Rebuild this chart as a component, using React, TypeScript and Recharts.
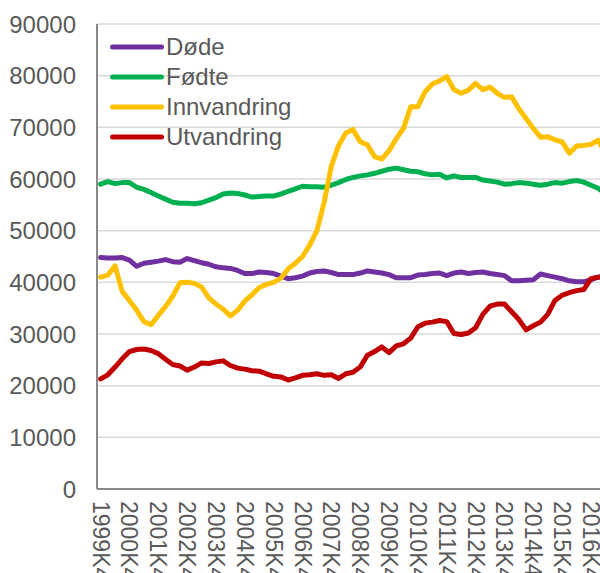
import React from 'react';
import { LineChart, Line, XAxis, YAxis, CartesianGrid, Legend } from 'recharts';

const quarters = [
  '1999K4',
  '2000K1', '2000K2', '2000K3', '2000K4',
  '2001K1', '2001K2', '2001K3', '2001K4',
  '2002K1', '2002K2', '2002K3', '2002K4',
  '2003K1', '2003K2', '2003K3', '2003K4',
  '2004K1', '2004K2', '2004K3', '2004K4',
  '2005K1', '2005K2', '2005K3', '2005K4',
  '2006K1', '2006K2', '2006K3', '2006K4',
  '2007K1', '2007K2', '2007K3', '2007K4',
  '2008K1', '2008K2', '2008K3', '2008K4',
  '2009K1', '2009K2', '2009K3', '2009K4',
  '2010K1', '2010K2', '2010K3', '2010K4',
  '2011K1', '2011K2', '2011K3', '2011K4',
  '2012K1', '2012K2', '2012K3', '2012K4',
  '2013K1', '2013K2', '2013K3', '2013K4',
  '2014K1', '2014K2', '2014K3', '2014k4',
  '2015K1', '2015K2', '2015K3', '2015K4',
  '2016K1', '2016K2', '2016K3', '2016K4',
  '2017K1', '2017K2',
];

const dode = [
  44800, 44700, 44700, 44800, 44300, 43100, 43700, 43900, 44100, 44400,
  44000, 43900, 44600, 44200, 43800, 43500, 43000, 42800, 42700, 42300,
  41700, 41700, 42000, 41900, 41700, 41200, 40700, 40900, 41200, 41800,
  42100, 42200, 41900, 41500, 41500, 41500, 41800, 42200, 42000, 41800,
  41500, 40900, 40900, 40900, 41400, 41500, 41700, 41800, 41300, 41800,
  42000, 41700, 41900, 42000, 41700, 41500, 41300, 40300, 40300, 40400,
  40500, 41600, 41300, 41000, 40700, 40300, 40100, 40100, 40500, 41000,
  41200,
];

const fodte = [
  59000, 59500, 59100, 59300, 59300, 58400, 58000, 57400, 56700, 56100,
  55500, 55300, 55300, 55200, 55400, 55900, 56400, 57100, 57300, 57200,
  56900, 56500, 56600, 56700, 56700, 57100, 57600, 58100, 58600, 58500,
  58500, 58400, 58800, 59300, 59900, 60300, 60600, 60800, 61100, 61500,
  61900, 62100, 61800, 61500, 61400, 61000, 60800, 60900, 60200, 60600,
  60300, 60300, 60300, 59800, 59600, 59400, 59000, 59100, 59300, 59200,
  59000, 58800, 59000, 59300, 59200, 59500, 59700, 59400, 58800, 58200,
  57200,
];

const innvandring = [
  41000, 41400, 43200, 38200, 36500, 34600, 32400, 31800, 33600, 35300,
  37300, 39900, 40000, 39800, 39100, 37000, 35800, 34800, 33500, 34600,
  36400, 37600, 39000, 39600, 40000, 40800, 42600, 43700, 45000, 47200,
  50000, 55500, 62500, 66500, 68900, 69600, 67200, 66600, 64300, 63900,
  65500, 67800, 69800, 74000, 74000, 76900, 78400, 79000, 79800, 77300,
  76600, 77200, 78500, 77300, 77800, 76600, 75800, 75900, 73600, 71700,
  69800, 68100, 68200, 67600, 67200, 65000, 66400, 66500, 66700, 67500,
  65000,
];

const utvandring = [
  21300, 22100, 23600, 25200, 26600, 27000, 27100, 26800, 26200, 25100,
  24100, 23800, 23000, 23600, 24400, 24300, 24600, 24800, 23900, 23400,
  23200, 22900, 22800, 22300, 21800, 21700, 21100, 21500, 22000, 22100,
  22300, 22000, 22100, 21400, 22300, 22600, 23600, 25900, 26600, 27500,
  26400, 27700, 28100, 29200, 31400, 32100, 32300, 32600, 32400, 30100,
  29900, 30200, 31200, 33800, 35400, 35800, 35800, 34300, 32800, 30800,
  31600, 32300, 33800, 36500, 37500, 38000, 38400, 38600, 40700, 41000,
  41100,
];

const yTicks = [0, 10000, 20000, 30000, 40000, 50000, 60000, 70000, 80000, 90000];

const seriesNames = ['Døde', 'Fødte', 'Innvandring', 'Utvandring'];
const seriesColors = ['#7030A0', '#00B050', '#FFC000', '#C00000'];
const seriesValues = [dode, fodte, innvandring, utvandring];

const data = quarters.map((q, i) => {
  const row: Record<string, string | number> = { q };
  seriesNames.forEach((n, k) => {
    row[n] = seriesValues[k][i];
  });
  return row;
});

const FONT = '"Liberation Sans", Arial, sans-serif';
const TEXT = '#595959';

function XTick(props: any) {
  const { x, y, payload } = props;
  return (
    <g transform={`translate(${x},${y + 12})`}>
      <text
        transform="rotate(90)"
        textAnchor="start"
        dominantBaseline="central"
        fill={TEXT}
        fontSize={23}
        fontFamily={FONT}
      >
        {payload.value}
      </text>
    </g>
  );
}

function LegendContent() {
  return (
    <div style={{ fontFamily: FONT }}>
      {seriesNames.map((n, i) => (
        <div key={n} style={{ display: 'flex', alignItems: 'center', height: 30 }}>
          <svg width={58} height={30} style={{ display: 'block' }}>
            <line x1={4.5} x2={53.5} y1={15} y2={15} stroke={seriesColors[i]} strokeWidth={5} strokeLinecap="round" />
          </svg>
          <span style={{ fontSize: 24, color: TEXT, lineHeight: '30px', whiteSpace: 'nowrap' }}>{n}</span>
        </div>
      ))}
    </div>
  );
}

export default function App() {
  return (
    <div style={{ position: 'absolute', left: 0, top: 0, width: 600, height: 573, overflow: 'hidden', background: '#fff' }}>
      <LineChart width={620} height={573} data={data} margin={{ top: 24, right: 11, left: 0, bottom: 0 }}>
        <CartesianGrid vertical={false} stroke="#d9d9d9" strokeWidth={1.5} />
        <XAxis
          dataKey="q"
          height={84}
          interval={3}
          tick={<XTick />}
          tickLine={false}
          tickSize={0}
          tickMargin={0}
          padding={{ left: 3.6, right: 3.6 }}
          axisLine={{ stroke: '#898989', strokeWidth: 2 }}
        />
        <YAxis
          width={97}
          domain={[0, 90000]}
          ticks={yTicks}
          interval={0}
          tick={{ fill: TEXT, fontSize: 24, fontFamily: FONT }}
          tickLine={false}
          tickSize={0}
          tickMargin={21}
          axisLine={{ stroke: '#898989', strokeWidth: 2 }}
          allowDataOverflow
        />
        <Legend
          layout="vertical"
          align="center"
          verticalAlign="middle"
          content={<LegendContent />}
          wrapperStyle={{ left: 108, top: 32, width: 260, height: 120 }}
        />
        {seriesNames.map((n, i) => (
          <Line
            key={n}
            type="linear"
            dataKey={n}
            stroke={seriesColors[i]}
            strokeWidth={5}
            dot={false}
            activeDot={false}
            strokeLinejoin="round"
            strokeLinecap="round"
            isAnimationActive={false}
          />
        ))}
      </LineChart>
    </div>
  );
}
